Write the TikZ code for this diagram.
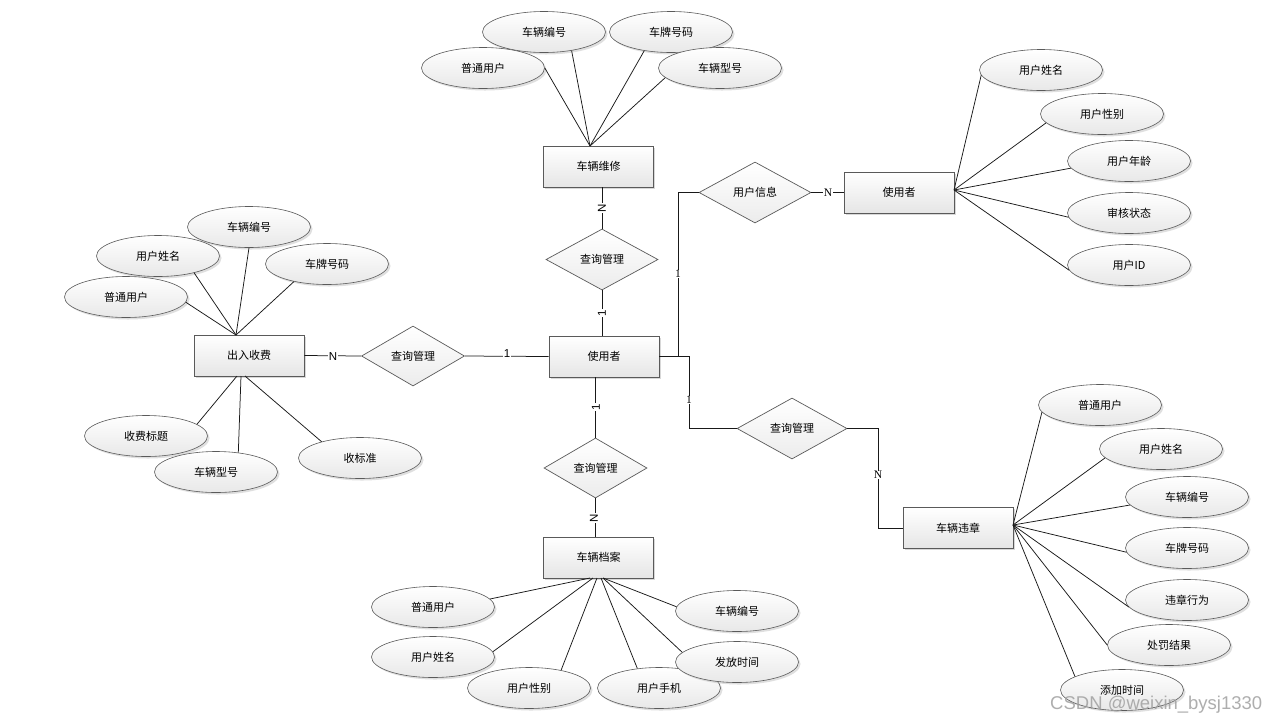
\documentclass[tikz,border=0pt]{standalone}
\usepackage{fontspec}
\newfontfamily\cjk{Noto Sans CJK SC}
\newfontfamily\lsans{Liberation Sans}
\newfontfamily\lserif{Liberation Serif}
\usetikzlibrary{shapes.geometric,shadows,calc}
\definecolor{edgegray}{RGB}{90,90,90}
\definecolor{linec}{RGB}{25,25,25}
\definecolor{wmark}{RGB}{160,160,160}
\begin{document}
\begin{tikzpicture}[x=1pt,y=-1pt,
  txt/.style={font=\cjk\fontsize{11}{13}\selectfont, text=black},
  ent/.style={txt, draw=edgegray, line width=0.8pt, rectangle, minimum width=110pt, minimum height=41pt, inner sep=0pt,
    top color=white, bottom color=gray!20,
    drop shadow={shadow xshift=1.5pt, shadow yshift=-1.5pt, fill=gray!60, opacity=0.5}},
  attr/.style={txt, draw=edgegray, line width=0.6pt, ellipse, minimum width=123pt, minimum height=41pt, inner sep=0pt,
    top color=white, bottom color=gray!18,
    drop shadow={shadow xshift=2pt, shadow yshift=-2pt, fill=gray!55, opacity=0.45}},
  rel/.style={txt, draw=edgegray, line width=0.7pt, diamond, inner sep=0pt,
    top color=white, bottom color=gray!15},
  conn/.style={draw=linec, line width=0.75pt},
  cardA/.style={fill=white, inner sep=0.8pt, font=\lsans\fontsize{11.5}{12}\selectfont},
  cardB/.style={fill=white, inner sep=0.5pt, font=\lserif\fontsize{11.5}{12}\selectfont},
]
\fill[white] (0,0) rectangle (1281,724);
\useasboundingbox (0,0) rectangle (1281,724);

% ---------- entities ----------
\node[ent] (wx)  at (598.5,166.5) {车辆维修};
\node[ent] (u)   at (604,356.5)   {使用者};
\node[ent] (fee) at (249,355.5)   {出入收费};
\node[ent] (da)  at (598.5,557.5) {车辆档案};
\node[ent] (u2)  at (899,192.5)   {使用者};
\node[ent] (vr)  at (958,528)     {车辆违章};

% ---------- relations ----------
\node[rel, minimum width=112pt, minimum height=61pt] (tq) at (602,259.5) {查询管理};
\node[rel, minimum width=103pt, minimum height=60pt] (lq) at (413,356)   {查询管理};
\node[rel, minimum width=103pt, minimum height=60pt] (bq) at (595.5,468) {查询管理};
\node[rel, minimum width=112pt, minimum height=61pt] (ui) at (755,192.5) {用户信息};
\node[rel, minimum width=110pt, minimum height=61pt] (rq) at (792,428.5) {查询管理};

% ---------- attributes: 车辆维修 ----------
\node[attr] (a2) at (544,32)  {车辆编号};
\node[attr] (a3) at (671,32)  {车牌号码};
\node[attr] (a1) at (483,68)  {普通用户};
\node[attr] (a4) at (720,68)  {车辆型号};

% ---------- attributes: 出入收费 ----------
\node[attr] (b1) at (249,227) {车辆编号};
\node[attr] (b2) at (158,256) {用户姓名};
\node[attr] (b3) at (327,264) {车牌号码};
\node[attr] (b4) at (126,297) {普通用户};
\node[attr] (b5) at (146,436) {收费标题};
\node[attr] (b6) at (216,472) {车辆型号};
\node[attr] (b7) at (360,458) {收标准};

% ---------- attributes: 车辆档案 ----------
\node[attr] (c1) at (433,607) {普通用户};
\node[attr] (c2) at (433,657) {用户姓名};
\node[attr] (c3) at (529,688) {用户性别};
\node[attr] (c4) at (659,688) {用户手机};
\node[attr] (c5) at (737,611) {车辆编号};
\node[attr] (c6) at (737,662) {发放时间};

% ---------- attributes: 使用者 (right) ----------
\node[attr] (d1) at (1041,70)  {用户姓名};
\node[attr] (d2) at (1102,114) {用户性别};
\node[attr] (d3) at (1129,161) {用户年龄};
\node[attr] (d4) at (1129,213) {审核状态};
\node[attr] (d5) at (1129,265) {用户ID};

% ---------- attributes: 车辆违章 ----------
\node[attr] (e1) at (1100,405) {普通用户};
\node[attr] (e2) at (1161,449) {用户姓名};
\node[attr] (e3) at (1187,497) {车辆编号};
\node[attr] (e4) at (1187,548) {车牌号码};
\node[attr] (e5) at (1187,600) {违章行为};
\node[attr] (e6) at (1169,645) {处罚结果};
\node[attr] (e7) at (1122,690) {添加时间};

% ---------- convergence points ----------
\coordinate (wxT) at (590,146);
\coordinate (feeT) at (236,335);
\coordinate (feeB1) at (237,376);
\coordinate (feeB2) at (241,376);
\coordinate (feeB3) at (245,376);
\coordinate (daB1) at (590,578);
\coordinate (daB2) at (593,578);
\coordinate (daB3) at (597,578);
\coordinate (daB4) at (601,578);
\coordinate (daB5) at (603,578);
\coordinate (u2R) at (954,190);
\coordinate (vrR) at (1013,525);

% ---------- attribute lines ----------
\draw[conn] (a1.east) -- (wxT);
\draw[conn] (a2.-34) -- (wxT);
\draw[conn] (a3.-145) -- (wxT);
\draw[conn] (a4.-170) -- (wxT);

\draw[conn] (b4.-5) -- (feeT);
\draw[conn] (b2.-25) -- (feeT);
\draw[conn] (b1.south) -- (feeT);
\draw[conn] (b3.-152) -- (feeT);
\draw[conn] (b5.13) -- (feeB1);
\draw[conn] (b6.41) -- (feeB2);
\draw[conn] (b7.157) -- (feeB3);

\draw[conn] (c1.8) -- (daB1);
\draw[conn] (c2.5) -- (daB2);
\draw[conn] (c3.29) -- (daB3);
\draw[conn] (c4.138) -- (daB4);
\draw[conn] (c6.170) -- (daB5);
\draw[conn] (c5.176) -- (daB5);

\draw[conn] (d1.185) -- (u2R);
\draw[conn] (d2.189) -- (u2R);
\draw[conn] (d3.187) -- (u2R);
\draw[conn] (d4.184) -- (u2R);
\draw[conn] (d5.185) -- (u2R);

\draw[conn] (e1.187) -- (vrR);
\draw[conn] (e2.189) -- (vrR);
\draw[conn] (e3.188) -- (vrR);
\draw[conn] (e4.184) -- (vrR);
\draw[conn] (e5.187) -- (vrR);
\draw[conn] (e6.west) -- (vrR);
\draw[conn] (e7.164) -- (vrR);

% ---------- relationship lines ----------
\draw[conn] (tq.north |- wx.south) -- (tq.north);
\draw[conn] (tq.south) -- (tq.south |- u.north);
\draw[conn] (bq.north |- u.south) -- (bq.north);
\draw[conn] (bq.south) -- (bq.south |- da.north);
\draw[conn] (fee.east) -- (lq.west);
\draw[conn] (lq.east) -- (u.west);
\draw[conn] (u.east) -- ++(19,0) |- (ui.west);
\draw[conn] (u.east) -- ++(30,0) |- (rq.west);
\draw[conn] (ui.east) -- (u2.west);
\draw[conn] (rq.east) -- ++(31,0) |- (vr.west);

% ---------- cardinalities ----------
\node[cardA] (n1) at (333,357) {N};
\node[cardA] (n2) at (507,354) {1};
\node[cardA, rotate=90] (n3) at (602,208) {N};
\node[cardA, rotate=90] (n4) at (602,313) {1};
\node[cardA, rotate=90] (n5) at (596,407) {1};
\node[cardA, rotate=90] (n6) at (594,518) {N};
\node[cardB] (n7) at (678,274) {1};
\node[cardB] (n8) at (828,192.5) {N};
\node[cardB] (n9) at (689,400) {1};
\node[cardB] (n10) at (878,475) {N};

% ---------- watermark ----------
\node[anchor=base west, inner sep=0pt, text=wmark, opacity=0.85,
  font=\lsans\fontsize{18.5}{20}\selectfont] (wm) at (1050,709) {CSDN @weixin\_bysj1330};
\end{tikzpicture}
\end{document}
